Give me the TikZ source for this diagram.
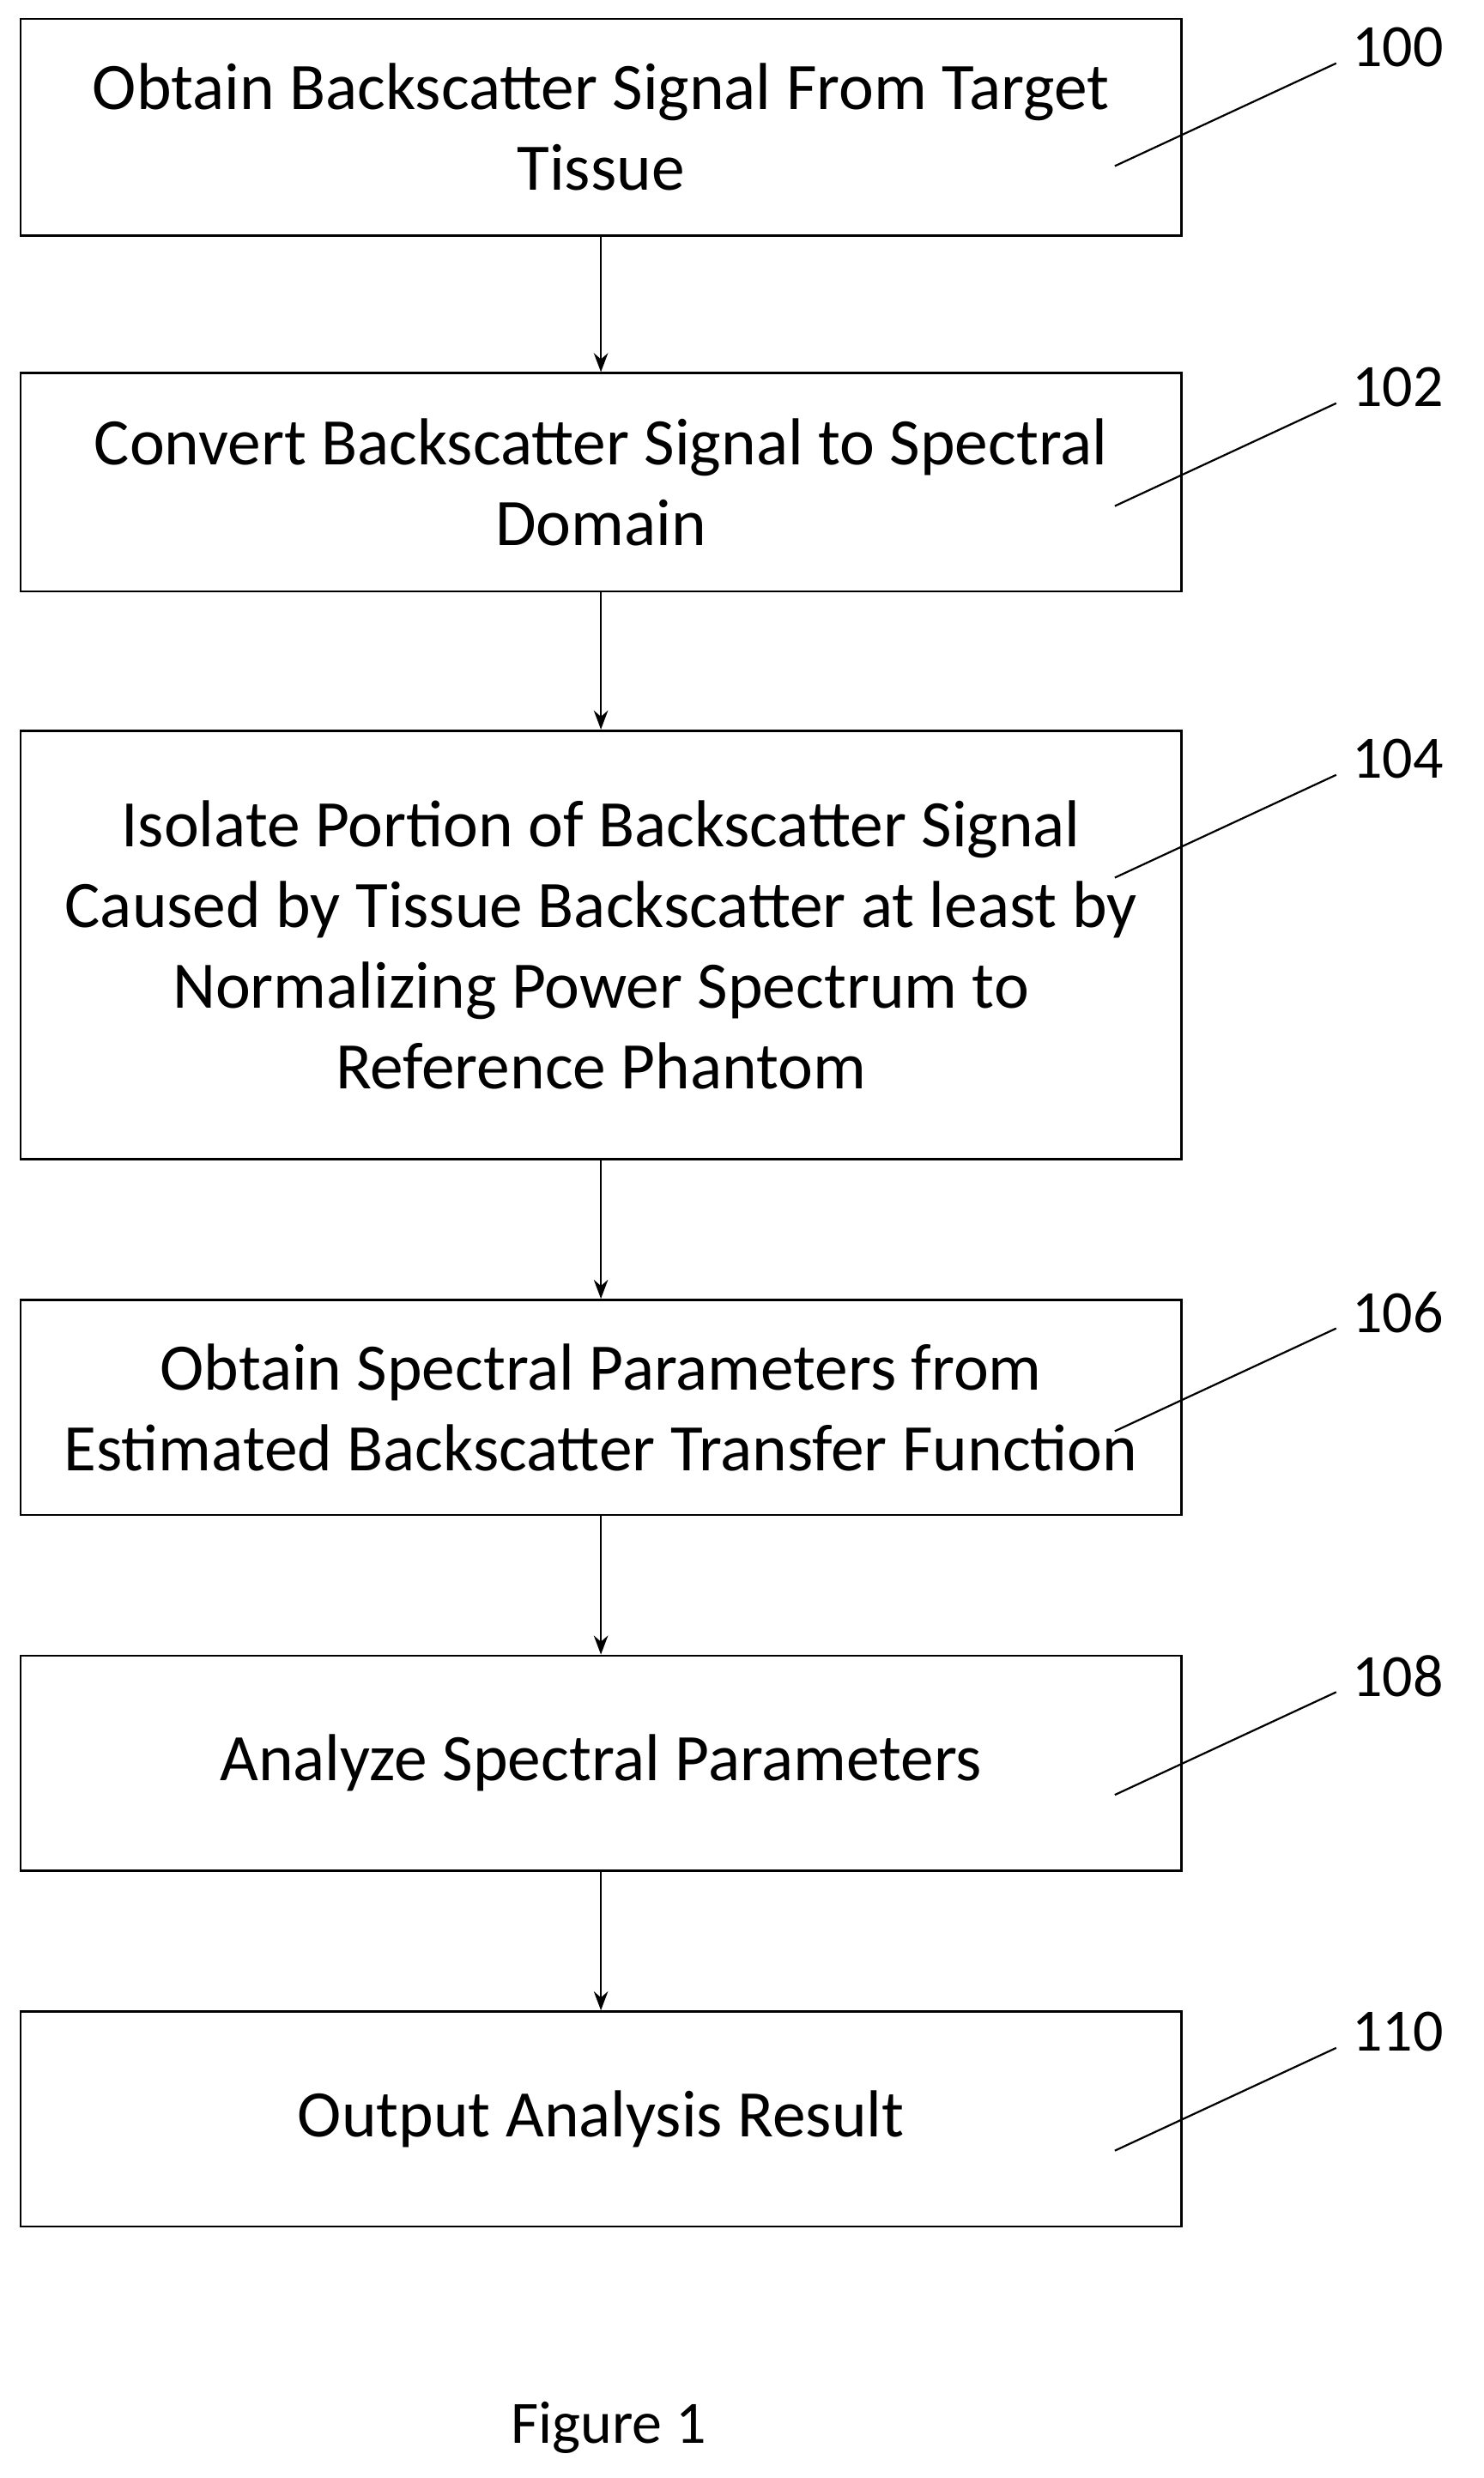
\documentclass[tikz,border=0pt]{standalone}
\usepackage{fontspec}
\setmainfont{Carlito}
\usetikzlibrary{arrows.meta}
\begin{document}
\begin{tikzpicture}[x=1pt,y=-1pt,
  box/.style={draw,line width=1.5pt,minimum width=734pt,align=center,inner sep=0pt,font=\fontsize{42}{51}\selectfont},
  arr/.style={-{Stealth[length=12pt,width=9pt]},line width=1.2pt},
  lead/.style={line width=1.2pt},
  lab/.style={font=\fontsize{38}{40}\selectfont}]
\useasboundingbox (0,0) rectangle (938,1567);
\node[box,minimum height=137pt] (b1) at (380,80.5) {Obtain Backscatter Signal From Target\\Tissue};
\node[box,minimum height=138pt] (b2) at (380,305) {Convert Backscatter Signal to Spectral\\Domain};
\node[box,minimum height=271pt] (b3) at (380,597.5) {Isolate Portion of Backscatter Signal\\Caused by Tissue Backscatter at least by\\Normalizing Power Spectrum to\\Reference Phantom};
\node[box,minimum height=136pt] (b4) at (380,890) {Obtain Spectral Parameters from\\Estimated Backscatter Transfer Function};
\node[box,minimum height=136pt] (b5) at (380,1115) {Analyze Spectral Parameters};
\node[box,minimum height=136pt] (b6) at (380,1340) {Output Analysis Result};
\draw[arr] (b1) -- (b2);
\draw[arr] (b2) -- (b3);
\draw[arr] (b3) -- (b4);
\draw[arr] (b4) -- (b5);
\draw[arr] (b5) -- (b6);
\foreach \n/\y/\t in {l1/30/100,l2/245/102,l3/480/104,l4/830/106,l5/1060/108,l6/1285/110}{
  \node[lab] (\n) at (884,\y) {\t};
  \coordinate (\n s) at (705,\y+75);
  \coordinate (\n e) at (845,\y+10);
  \draw[lead] (\n s) -- (\n e);
}
\node[font=\fontsize{38}{40}\selectfont] (fig) at (385,1535) {Figure 1};
\end{tikzpicture}
\end{document}
